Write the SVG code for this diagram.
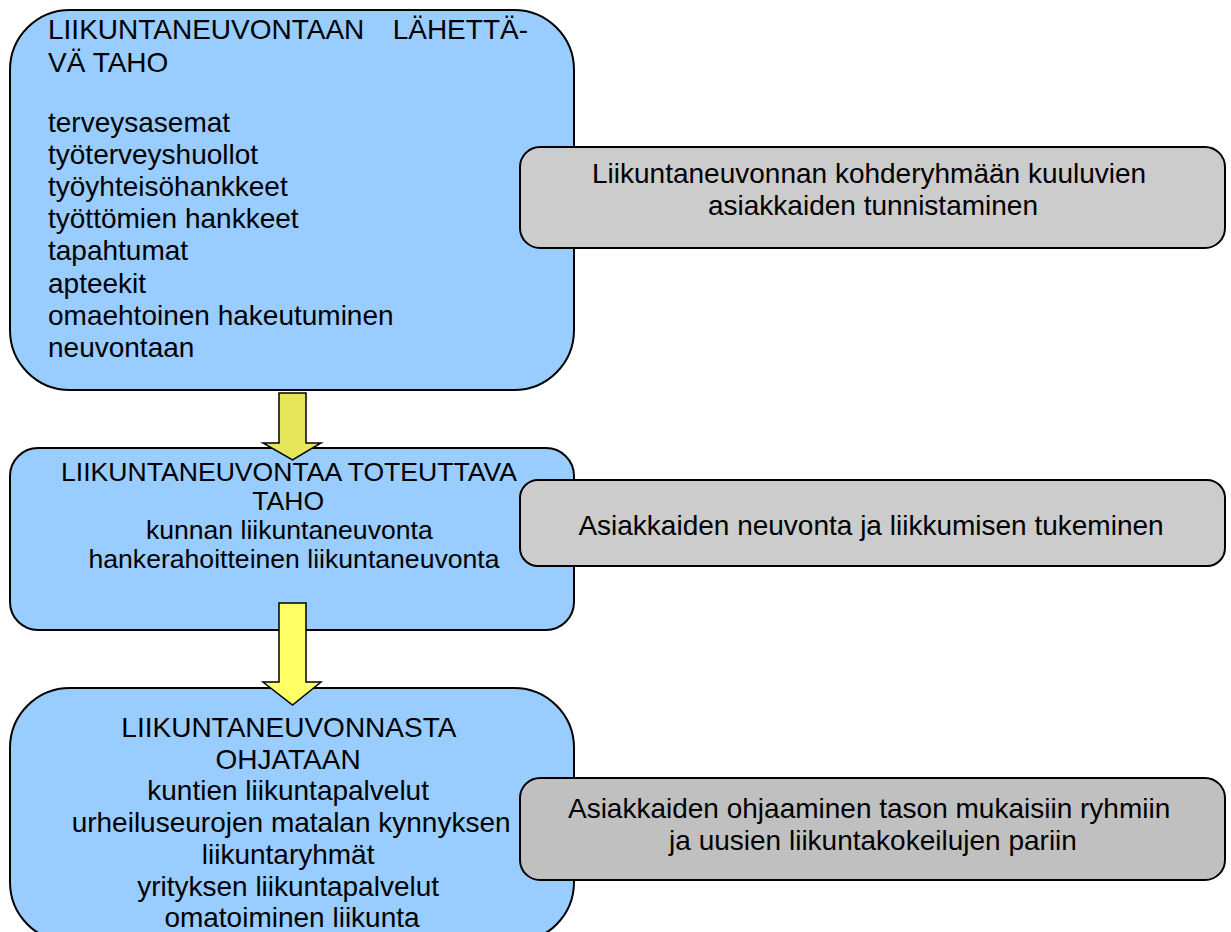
<svg xmlns="http://www.w3.org/2000/svg" width="1231" height="932" viewBox="0 0 1231 932">
<style>
.blue{fill:#99CCFF;stroke:#000;stroke-width:2}
.gray{fill:#CCCCCC;stroke:#000;stroke-width:2}
.gray2{fill:#C0C0C0;stroke:#000;stroke-width:2}
text{font-family:"Liberation Sans",Arial,sans-serif;fill:#000}
.t28{font-size:28px}
.t26{font-size:26.6px}
.c{text-anchor:middle}
.arr{stroke:#000;stroke-width:1.5;stroke-linejoin:miter}
</style>
<rect width="1231" height="932" fill="#fff"/>
<g id="node-lahettava">
<rect class="blue" x="10" y="10" width="564" height="380" rx="60" ry="60"/>
<text class="t28"><tspan x="48" y="39">LIIKUNTANEUVONTAAN</tspan><tspan x="528" y="39" text-anchor="end">LÄHETTÄ-</tspan></text>
<text class="t28" x="48" y="72">VÄ TAHO</text>
<text class="t28">
<tspan x="48" y="131.5">terveysasemat</tspan>
<tspan x="48" y="163.7">työterveyshuollot</tspan>
<tspan x="48" y="195.9">työyhteisöhankkeet</tspan>
<tspan x="48" y="228.1">työttömien hankkeet</tspan>
<tspan x="48" y="260.3">tapahtumat</tspan>
<tspan x="48" y="292.5">apteekit</tspan>
<tspan x="48" y="324.7">omaehtoinen hakeutuminen</tspan>
<tspan x="48" y="356.9">neuvontaan</tspan>
</text>
</g>
<g id="node-toteuttava">
<rect class="blue" x="10" y="448" width="564" height="182" rx="28" ry="28"/>
<text class="t26 c">
<tspan x="292" y="481">LIIKUNTANEUVONTAA TOTEUTTAVA</tspan>
<tspan x="292" y="510">TAHO</tspan>
<tspan x="293" y="539">kunnan liikuntaneuvonta</tspan>
<tspan x="294" y="568">hankerahoitteinen liikuntaneuvonta</tspan>
</text>
</g>
<g id="node-ohjataan">
<rect class="blue" x="10" y="688" width="564" height="254" rx="60" ry="60"/>
<text class="t28 c">
<tspan x="292" y="737">LIIKUNTANEUVONNASTA</tspan>
<tspan x="292" y="768.7">OHJATAAN</tspan>
<tspan x="292" y="800.4">kuntien liikuntapalvelut</tspan>
<tspan x="295" y="832">urheiluseurojen matalan kynnyksen</tspan>
<tspan x="292" y="863.8">liikuntaryhmät</tspan>
<tspan x="292" y="895.5">yrityksen liikuntapalvelut</tspan>
<tspan x="292" y="927">omatoiminen liikunta</tspan>
</text>
</g>
<g id="node-tunnistaminen">
<rect class="gray" x="520" y="147" width="705" height="101" rx="20" ry="20"/>
<text class="t28 c">
<tspan x="873" y="183">Liikuntaneuvonnan kohderyhmään kuuluvien</tspan>
<tspan x="873" y="215">asiakkaiden tunnistaminen</tspan>
</text>
</g>
<g id="node-neuvonta">
<rect class="gray" x="520" y="480" width="705" height="86" rx="18" ry="18"/>
<text class="t28 c" x="871" y="535">Asiakkaiden neuvonta ja liikkumisen tukeminen</text>
</g>
<g id="node-ohjaaminen">
<rect class="gray2" x="520" y="778" width="705" height="102" rx="20" ry="20"/>
<text class="t28 c">
<tspan x="873" y="818">Asiakkaiden ohjaaminen tason mukaisiin ryhmiin</tspan>
<tspan x="873" y="850">ja uusien liikuntakokeilujen pariin</tspan>
</text>
</g>
<g id="connectors">
<polygon class="arr" fill="#E6E65C" points="279,393 306,393 306,443 321,443 292.5,460 263,443 279,443"/>
<polygon class="arr" fill="#FFFF66" points="279,603 306,603 306,682 321,682 292.5,705 263,682 279,682"/>
</g>
</svg>
